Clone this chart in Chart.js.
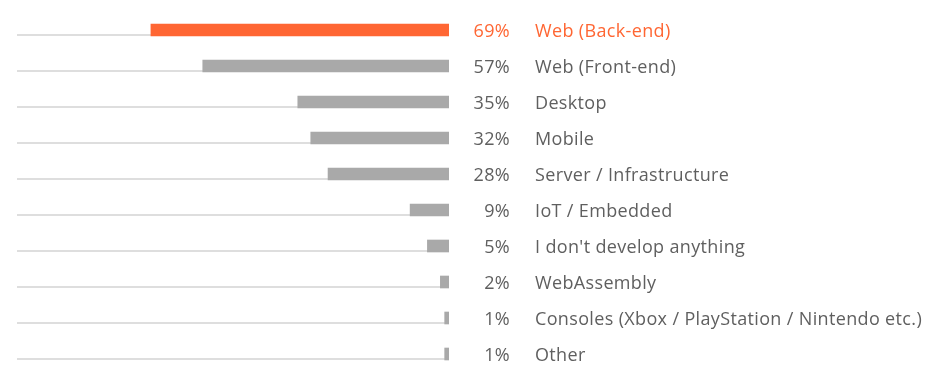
<!DOCTYPE html>
<html><head><meta charset="utf-8">
<script src="https://cdn.jsdelivr.net/npm/chart.js@4/dist/chart.umd.min.js"></script>
<style>html,body{margin:0;padding:0;background:#fff}#wrap{width:949px;height:390px}</style>
</head><body><div id="wrap"><canvas id="c"></canvas></div>
<script>
const categories = ["Web (Back-end)","Web (Front-end)","Desktop","Mobile","Server / Infrastructure","IoT / Embedded","I don't develop anything","WebAssembly","Consoles (Xbox / PlayStation / Nintendo etc.)","Other"];
const values = [69,57,35,32,28,9,5,2,1,1];
const highlightIndex = 0;
const ORANGE = "#FF6633", GREY = "#A9A9A9", TEXT = "#5F5F5F", TRACK = "#D6D6D6";
const FONT = '18px "Open Sans", "Noto Sans", sans-serif';

const trackPlugin = {
  id: 'track',
  beforeDatasetsDraw(chart) {
    const ctx = chart.ctx, x = chart.scales.x, y = chart.scales.y;
    ctx.save();
    ctx.fillStyle = TRACK;
    categories.forEach((c, i) => {
      const cy = y.getPixelForValue(i);
      const x0 = x.getPixelForValue(100), x1 = x.getPixelForValue(0);
      ctx.fillRect(x0, cy + 4.2, x1 - x0, 1.6);
    });
    ctx.restore();
  },
  afterDatasetsDraw(chart) {
    const ctx = chart.ctx, x = chart.scales.x, y = chart.scales.y;
    ctx.save();
    ctx.font = FONT;
    ctx.letterSpacing = '0.35px';
    ctx.textBaseline = 'middle';
    const x0 = x.getPixelForValue(0);
    categories.forEach((c, i) => {
      const cy = y.getPixelForValue(i) + 1.5;
      ctx.fillStyle = i === highlightIndex ? ORANGE : TEXT;
      ctx.textAlign = 'right';
      ctx.fillText(values[i] + '%', x0 + 61, cy);
      ctx.textAlign = 'left';
      ctx.fillText(c, x0 + 86, cy);
    });
    ctx.restore();
  }
};

new Chart(document.getElementById('c'), {
  type: 'bar',
  data: {
    labels: categories,
    datasets: [{
      data: values,
      backgroundColor: values.map((v, i) => i === highlightIndex ? ORANGE : GREY),
      barThickness: 12,
      borderWidth: 0
    }]
  },
  options: {
    indexAxis: 'y',
    responsive: true,
    maintainAspectRatio: false,
    animation: false,
    layout: { padding: { left: 17, right: 500, top: 12, bottom: 18 } },
    plugins: { legend: { display: false }, tooltip: { enabled: false } },
    scales: {
      x: { reverse: true, min: 0, max: 100, display: false },
      y: { display: false }
    }
  },
  plugins: [trackPlugin]
});
</script></body></html>
